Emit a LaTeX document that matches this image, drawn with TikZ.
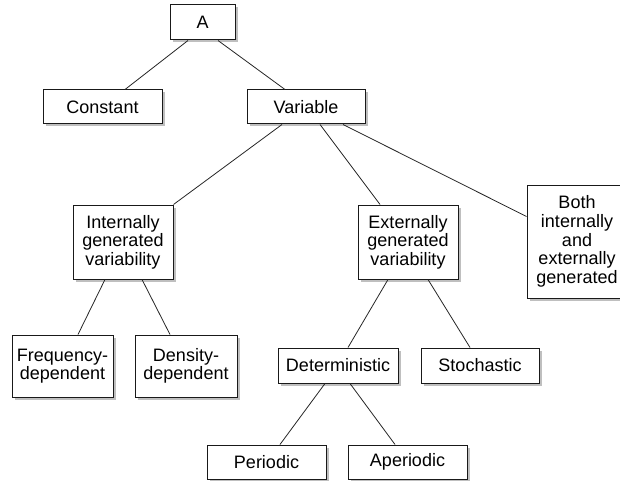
\documentclass[tikz,border=0pt]{standalone}
\usepackage{fontspec}
\setmainfont{Liberation Sans}
\usetikzlibrary{shadows}
\begin{document}
\begin{tikzpicture}[x=1pt,y=-1pt,
  box/.style={draw=black!90, line width=1pt, fill=white, inner sep=0pt,
    align=center, text=black,
    font=\fontsize{18}{18.6}\selectfont,
    drop shadow={shadow xshift=2.5pt, shadow yshift=-2.5pt, fill=black, opacity=0.25}},
  link/.style={draw=black!85, line width=0.8pt}]
\useasboundingbox (0,0) rectangle (620,481);
\node[box, minimum width=65pt, minimum height=35pt] (A) at (202.5,22.5) {A};
\node[box, minimum width=119pt, minimum height=34pt] (C) at (102.5,107) {Constant};
\node[box, minimum width=118pt, minimum height=34pt] (V) at (306,107) {Variable};
\node[box, minimum width=100pt, minimum height=74pt] (I) at (123,242) {Internally\\generated\\variability};
\node[box, minimum width=100pt, minimum height=74pt] (E) at (408,242) {Externally\\generated\\variability};
\node[box, minimum width=100pt, minimum height=113pt] (B) at (577,241.5) {Both\\internally\\and\\externally\\generated};
\node[box, minimum width=101pt, minimum height=62pt] (F) at (62.5,366) {Frequency-\\dependent};
\node[box, minimum width=102pt, minimum height=62pt] (D) at (186,366) {Density-\\dependent};
\node[box, minimum width=120pt, minimum height=35pt] (Det) at (338,365.5) {Deterministic};
\node[box, minimum width=118pt, minimum height=35pt] (S) at (480,365.5) {Stochastic};
\node[box, minimum width=119pt, minimum height=34pt] (P) at (266.5,462) {Periodic};
\node[box, minimum width=119pt, minimum height=34pt] (Ap) at (407.5,462) {Aperiodic};
\draw[link] ([xshift=-14.5pt]A.south) -- ([xshift=22.5pt]C.north);
\draw[link] ([xshift=15.5pt]A.south) -- ([xshift=-21pt]V.north);
\draw[link] ([xshift=-24pt]V.south) -- (I.north east);
\draw[link] ([xshift=14pt]V.south) -- ([xshift=-28pt]E.north);
\draw[link] ([xshift=37pt]V.south) -- ([yshift=-32pt]B.north west);
\draw[link] ([xshift=-18pt]I.south) -- ([xshift=15.5pt]F.north);
\draw[link] ([xshift=19pt]I.south) -- ([xshift=-16pt]D.north);
\draw[link] ([xshift=-20pt]E.south) -- ([xshift=10pt]Det.north);
\draw[link] ([xshift=20pt]E.south) -- ([xshift=-10pt]S.north);
\draw[link] ([xshift=-13pt]Det.south) -- ([xshift=13.5pt]P.north);
\draw[link] ([xshift=12pt]Det.south) -- ([xshift=-12.5pt]Ap.north);
\end{tikzpicture}
\end{document}
